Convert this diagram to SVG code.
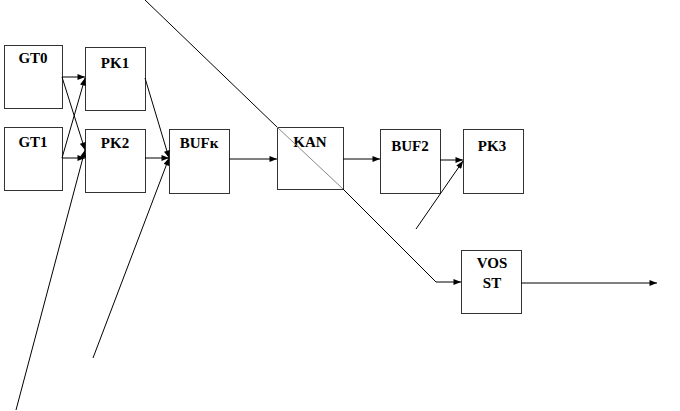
<svg xmlns="http://www.w3.org/2000/svg" width="680" height="411" viewBox="0 0 680 411">
<style>
.box{fill:#fff;stroke:#333;stroke-width:1}
.t{font-family:"Liberation Serif","Times New Roman",serif;font-weight:bold;font-size:15px;text-anchor:middle;fill:#000}
.c{fill:none;stroke:#000;stroke-width:1}
</style>
<defs>
<marker id="ah" viewBox="0 0 10 8" refX="10" refY="4" markerWidth="8" markerHeight="6" markerUnits="userSpaceOnUse" orient="auto">
<path d="M0,0 L10,4 L0,8 Z" fill="#000"/>
</marker>
</defs>
<rect width="680" height="411" fill="#fff"/>
<g id="GT0"><rect class="box" x="4.5" y="45.5" width="58" height="63"/><text class="t" x="33" y="63">GT0</text></g>
<g id="PK1"><rect class="box" x="85.5" y="47.5" width="60" height="63"/><text class="t" x="115" y="68">PK1</text></g>
<g id="GT1"><rect class="box" x="4.5" y="127.5" width="58" height="63"/><text class="t" x="33" y="147">GT1</text></g>
<g id="PK2"><rect class="box" x="85.5" y="129.5" width="60" height="63"/><text class="t" x="115" y="148">PK2</text></g>
<g id="BUFk"><rect class="box" x="169.5" y="129.5" width="60" height="64"/><text class="t" x="199" y="148">BUFк</text></g>
<g id="KAN"><rect class="box" x="277.5" y="127.5" width="66" height="62"/><text class="t" x="310" y="147">KAN</text></g>
<g id="BUF2"><rect class="box" x="380.5" y="129.5" width="60" height="64"/><text class="t" x="410" y="151">BUF2</text></g>
<g id="PK3"><rect class="box" x="463.5" y="129.5" width="60" height="64"/><text class="t" x="492" y="151">PK3</text></g>
<g id="VOSST"><rect class="box" x="461.5" y="250.5" width="60" height="63"/><text class="t" x="492" y="268">VOS</text><text class="t" x="492" y="288">ST</text></g>
<g id="connectors">
<line class="c" x1="62" y1="77" x2="85" y2="77" marker-end="url(#ah)"/>
<line class="c" x1="62" y1="77" x2="85" y2="150" marker-end="url(#ah)"/>
<line class="c" x1="62" y1="158" x2="85" y2="78" marker-end="url(#ah)"/>
<line class="c" x1="62" y1="158" x2="85" y2="158" marker-end="url(#ah)"/>
<line class="c" x1="16" y1="410" x2="85" y2="150" marker-end="url(#ah)"/>
<line class="c" x1="145" y1="78" x2="169" y2="158" marker-end="url(#ah)"/>
<line class="c" x1="145" y1="158" x2="169" y2="158" marker-end="url(#ah)"/>
<line class="c" x1="93" y1="358" x2="169" y2="158" marker-end="url(#ah)"/>
<line class="c" x1="229" y1="159" x2="277" y2="159" marker-end="url(#ah)"/>
<line class="c" x1="343" y1="159" x2="380" y2="159" marker-end="url(#ah)"/>
<line class="c" x1="440" y1="160" x2="463" y2="160" marker-end="url(#ah)"/>
<line class="c" x1="416" y1="229" x2="463" y2="161" marker-end="url(#ah)"/>
<line class="c" x1="145" y1="0" x2="277" y2="127"/>
<line x1="277" y1="127" x2="343" y2="189" stroke="#888" stroke-width="1"/>
<polyline class="c" points="343,189 436,282 461,282" marker-end="url(#ah)"/>
<line class="c" x1="521" y1="283" x2="657" y2="283" marker-end="url(#ah)"/>
</g>
</svg>
